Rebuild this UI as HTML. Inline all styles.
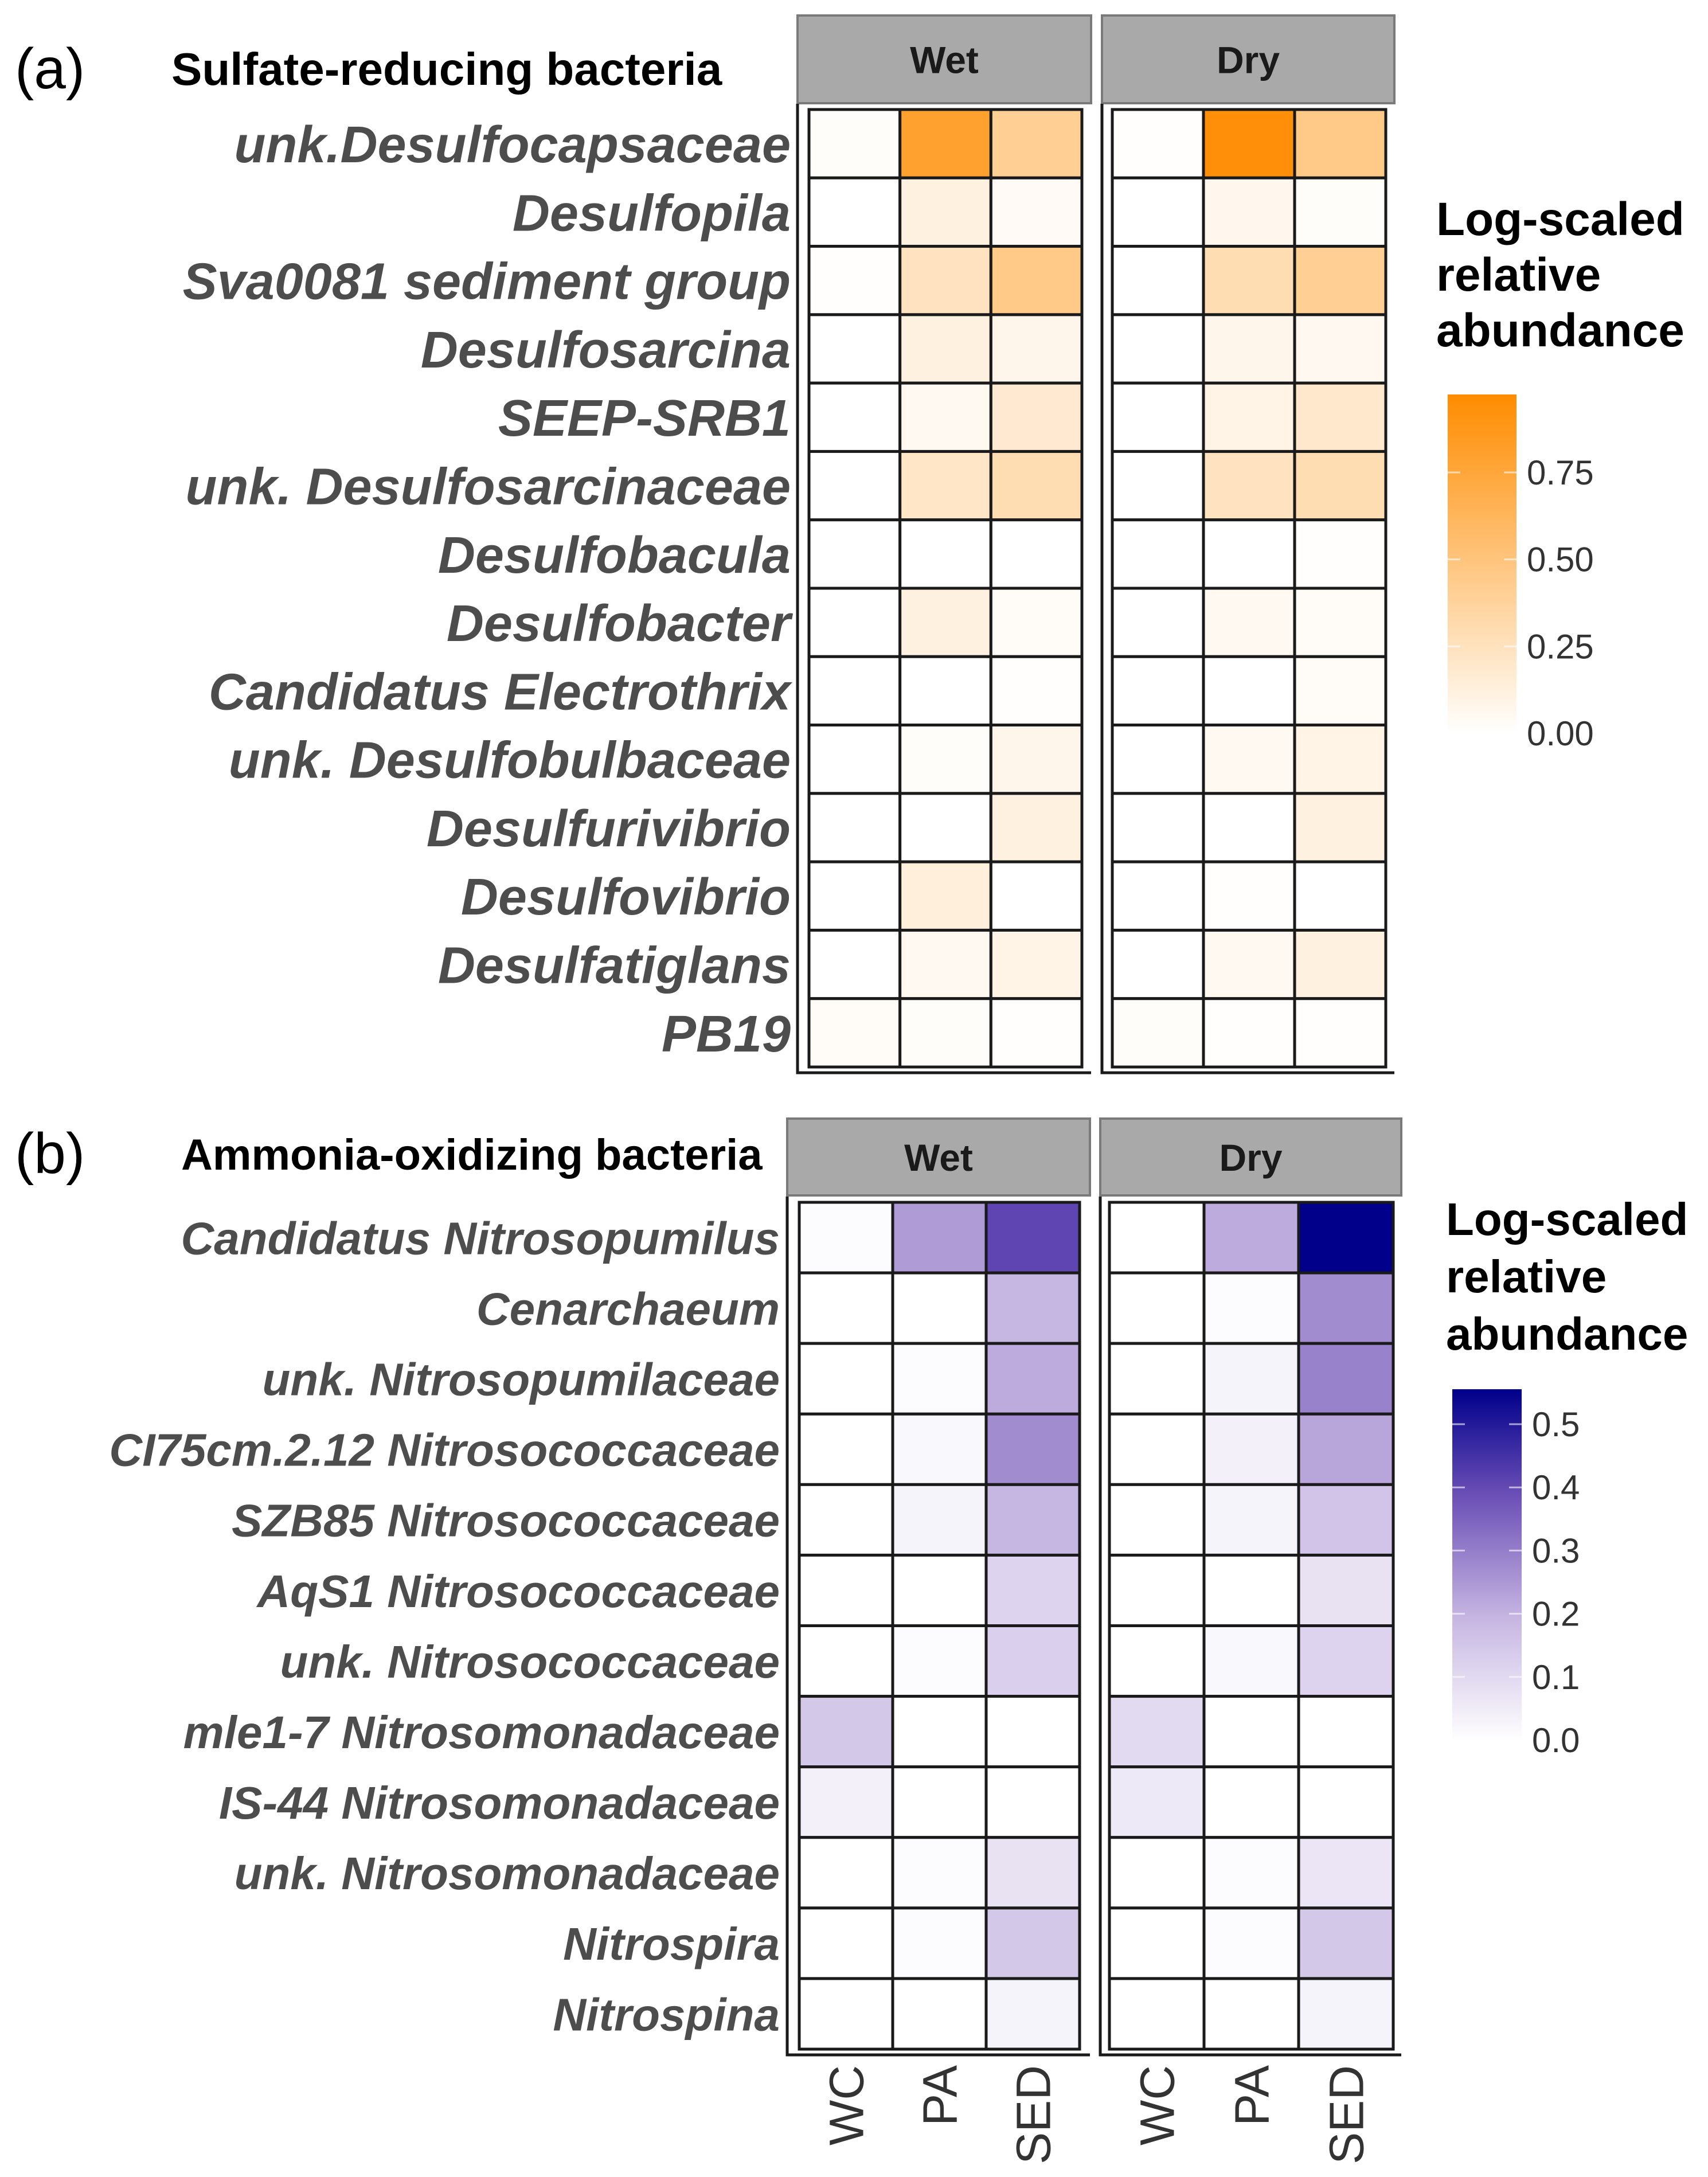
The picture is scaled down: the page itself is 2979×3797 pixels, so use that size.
<!DOCTYPE html>
<html><head><meta charset="utf-8"><style>
html,body{margin:0;padding:0;background:#fff;}
svg{display:block;font-family:"Liberation Sans",sans-serif;}
</style></head><body>
<svg id="chart" width="2979" height="3797" viewBox="0 0 2979 3797" xmlns="http://www.w3.org/2000/svg">
<defs>
<linearGradient id="gradO" x1="0" y1="1" x2="0" y2="0">
<stop offset="0" stop-color="#ffffff"/><stop offset="1" stop-color="#ff8c00"/>
</linearGradient>
<linearGradient id="gradP" x1="0" y1="1" x2="0" y2="0">
<stop offset="0" stop-color="#ffffff"/><stop offset="0.35" stop-color="#c6b6e2"/><stop offset="0.7" stop-color="#6b4fb6"/><stop offset="1" stop-color="#00008b"/>
</linearGradient>
</defs>
<g id="root"></g>
</svg>
<script>
const samples = ["WC","PA","SED"];
const seasons = ["Wet","Dry"];
const srbTaxa = ["unk.Desulfocapsaceae","Desulfopila","Sva0081 sediment group","Desulfosarcina","SEEP-SRB1","unk. Desulfosarcinaceae","Desulfobacula","Desulfobacter","Candidatus Electrothrix","unk. Desulfobulbaceae","Desulfurivibrio","Desulfovibrio","Desulfatiglans","PB19"];
const srbWet = [[0.02,0.82,0.42],[0,0.12,0.04],[0.01,0.25,0.47],[0,0.12,0.08],[0,0.05,0.18],[0,0.22,0.3],[0,0,0],[0,0.12,0.03],[0,0,0.01],[0,0.02,0.08],[0,0,0.12],[0,0.14,0],[0,0.05,0.1],[0.03,0.02,0.01]];
const srbDry = [[0.01,0.97,0.47],[0,0.07,0.02],[0,0.3,0.42],[0,0.08,0.06],[0,0.1,0.2],[0,0.25,0.3],[0,0,0.01],[0,0.05,0.03],[0,0,0.03],[0,0.05,0.1],[0,0,0.12],[0,0.01,0],[0,0.05,0.12],[0.02,0.01,0.01]];
const srbTicks = [0,0.25,0.5,0.75];
const srbTickLabels = ["0.00","0.25","0.50","0.75"];
const aobTaxa = ["Candidatus Nitrosopumilus","Cenarchaeum","unk.  Nitrosopumilaceae","CI75cm.2.12 Nitrosococcaceae","SZB85 Nitrosococcaceae","AqS1 Nitrosococcaceae","unk. Nitrosococcaceae","mle1-7 Nitrosomonadaceae","IS-44 Nitrosomonadaceae","unk. Nitrosomonadaceae","Nitrospira","Nitrospina"];
const aobWet = [[0.01,0.25,0.42],[0,0,0.2],[0,0.01,0.22],[0,0.02,0.28],[0,0.03,0.2],[0,0,0.12],[0,0.01,0.13],[0.15,0,0],[0.04,0,0],[0,0.01,0.08],[0,0.01,0.15],[0,0,0.03]];
const aobDry = [[0,0.22,0.57],[0,0.01,0.28],[0,0.03,0.3],[0,0.04,0.23],[0,0.03,0.16],[0,0,0.08],[0,0.02,0.12],[0.1,0,0],[0.06,0,0],[0,0.01,0.07],[0,0.01,0.15],[0,0,0.03]];
const aobTicks = [0,0.1,0.2,0.3,0.4,0.5];
const aobTickLabels = ["0.0","0.1","0.2","0.3","0.4","0.5"];

const NS="http://www.w3.org/2000/svg";
const root=document.getElementById('root');
function mk(tag,attrs,parent){const e=document.createElementNS(NS,tag);for(const k in attrs)e.setAttribute(k,attrs[k]);(parent||root).appendChild(e);return e;}
function hex(h){return [parseInt(h.slice(1,3),16),parseInt(h.slice(3,5),16),parseInt(h.slice(5,7),16)];}
function interp(stops,t){t=Math.max(0,Math.min(1,t));for(let i=1;i<stops.length;i++){if(t<=stops[i][0]){const a=stops[i-1],b=stops[i];const f=(t-a[0])/(b[0]-a[0]);const ca=hex(a[1]),cb=hex(b[1]);return 'rgb('+ca.map((v,j)=>Math.round(v+(cb[j]-v)*f)).join(',')+')';}}return stops[stops.length-1][1];}
const orangeStops=[[0,'#ffffff'],[1,'#ff8c00']];
const purpleStops=[[0,'#ffffff'],[0.35,'#c6b6e2'],[0.7,'#6b4fb6'],[1,'#00008b']];

function panel(cfg){
  const g=mk('g',{});
  
  
  const lab=mk('text',{x:cfg.letterX,y:cfg.titleY+6,'font-size':100,fill:'#000'},g);lab.textContent=cfg.letter;
  
  const tt=mk('text',{x:cfg.titleX,y:cfg.titleY,'font-size':cfg.titleSize,'font-weight':'bold',fill:'#000'},g);tt.textContent=cfg.title;
  
  const nR=cfg.taxa.length;const rowH=(cfg.bottom-cfg.top)/nR;
  const yScale=i=>cfg.top+i*rowH;
  [cfg.wet,cfg.dry].forEach((vals,f)=>{
    const fx=cfg.facetX[f];
    const strip=mk('rect',{x:fx[0],y:cfg.stripY[0],width:fx[1]-fx[0],height:cfg.stripY[1]-cfg.stripY[0],fill:'#a9a9a9',stroke:'#7a7a7a','stroke-width':4},g);
    
    const st=mk('text',{x:(fx[0]+fx[1])/2,y:(cfg.stripY[0]+cfg.stripY[1])/2+24,'font-size':66,'font-weight':'bold','text-anchor':'middle',fill:'#1a1a1a'},g);st.textContent=seasons[f];
    
    const cx=cfg.cellX[f];const cw=(cx[1]-cx[0])/samples.length;
    const xScale=j=>cx[0]+j*cw;
    vals.forEach((row,i)=>row.forEach((v,j)=>{
      const c=mk('rect',{x:xScale(j),y:yScale(i),width:cw,height:rowH,fill:interp(cfg.stops,v/cfg.max),stroke:'#1a1a1a','stroke-width':5},g);
      
      
    }));
    const ax=mk('path',{d:`M${fx[0]} ${cfg.top-10} V${cfg.bottom+10} H${fx[1]}`,stroke:'#1a1a1a','stroke-width':5,fill:'none'},g);
    
    if(cfg.xlabels){samples.forEach((s,j)=>{
      const xc=xScale(j)+cw/2+30;const y0=cfg.bottom+28;
      const t=mk('text',{x:xc,y:y0,'font-size':84,fill:'#333','text-anchor':'end',transform:`rotate(-90 ${xc} ${y0})`},g);t.textContent=s;
      
    });}
  });
  cfg.taxa.forEach((n,i)=>{
    const t=mk('text',{x:cfg.labelX,y:yScale(i)+rowH/2+cfg.labelSize*0.36,'font-size':cfg.labelSize,'font-weight':'bold','font-style':'italic','text-anchor':'end',fill:'#4d4d4d','xml:space':'preserve'},g);t.textContent=n;
    
  });
  cfg.legTitle.forEach((s,k)=>{const t=mk('text',{x:cfg.legX,y:cfg.legY+k*cfg.legLH,'font-size':cfg.legSize,'font-weight':'bold',fill:'#000'},g);t.textContent=s;
    });
  const cb=mk('rect',{x:cfg.cbX[0],y:cfg.cbY[0],width:cfg.cbX[1]-cfg.cbX[0],height:cfg.cbY[1]-cfg.cbY[0],fill:cfg.grad},g);
  
  const vS=v=>cfg.zeroY-(v/cfg.refV)*(cfg.zeroY-cfg.refY);
  cfg.ticks.forEach((v,k)=>{
    const y=vS(v);
    mk('line',{x1:cfg.cbX[0],x2:cfg.cbX[0]+22,y1:y,y2:y,stroke:'#fff','stroke-width':3,opacity:0.6},g);
    mk('line',{x1:cfg.cbX[1]-22,x2:cfg.cbX[1],y1:y,y2:y,stroke:'#fff','stroke-width':3,opacity:0.6},g);
    const t=mk('text',{x:cfg.cbX[1]+18,y:y+21,'font-size':60,fill:'#333'},g);t.textContent=cfg.tickLabels[k];
    
  });
}
panel({name:'panel-a-sulfate-reducing',letter:'(a)',letterX:26,titleX:299,titleY:148,titleSize:80,title:'Sulfate-reducing bacteria',
  taxa:srbTaxa,wet:srbWet,dry:srbDry,top:191,bottom:1861,facetX:[[1391,1903],[1922,2432]],stripY:[27,180],
  cellX:[[1411,1887],[1940,2417]],stops:orangeStops,max:1,labelX:1379,labelSize:90,xlabels:false,
  legTitle:['Log-scaled','relative','abundance'],legSize:82,legX:2505,legY:410,legLH:97,cbX:[2525,2645],cbY:[688,1279],
  zeroY:1279,refY:824,refV:0.75,grad:'url(#gradO)',
  ticks:srbTicks,tickLabels:srbTickLabels});
panel({name:'panel-b-ammonia-oxidizing',letter:'(b)',letterX:26,titleX:316,titleY:2040,titleSize:76,title:'Ammonia-oxidizing bacteria',
  taxa:aobTaxa,wet:aobWet,dry:aobDry,top:2097,bottom:3574,facetX:[[1373,1901],[1919,2444]],stripY:[1951,2085],
  cellX:[[1394,1883],[1935,2430]],stops:purpleStops,max:0.57,labelX:1360,labelSize:80,xlabels:true,
  legTitle:['Log-scaled','relative','abundance'],legSize:80,legX:2522,legY:2154,legLH:100,cbX:[2533,2654],cbY:[2423,3037],
  zeroY:3035,refY:2484,refV:0.5,grad:'url(#gradP)',
  ticks:aobTicks,tickLabels:aobTickLabels});
</script>
</body></html>
